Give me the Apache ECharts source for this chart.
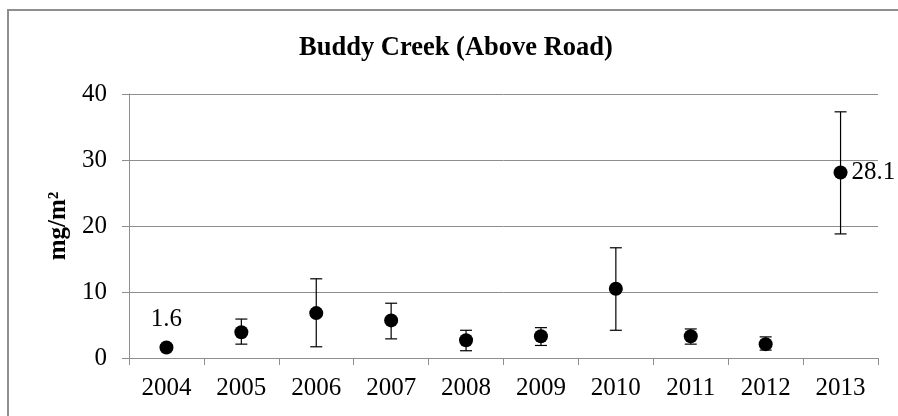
<!DOCTYPE html>
<html>
<head>
<meta charset="utf-8">
<script src="https://cdn.jsdelivr.net/npm/echarts@6/dist/echarts.min.js"></script>
<style>
html, body { margin: 0; padding: 0; background: #fff; }
#chart { width: 898px; height: 416px; }
</style>
</head>
<body>
<div id="chart"></div>
<script>
var years = ['2004', '2005', '2006', '2007', '2008', '2009', '2010', '2011', '2012', '2013']
var means = [1.6, 3.9, 6.8, 5.7, 2.7, 3.3, 10.5, 3.3, 2.1, 28.1]
var lows = [1.2, 2.1, 1.7, 2.9, 1.1, 1.9, 4.2, 2.1, 1.2, 18.8]
var highs = [2.0, 5.9, 12.0, 8.3, 4.2, 4.6, 16.7, 4.4, 3.2, 37.3]
var yTicks = [0, 10, 20, 30, 40]

var serif = '"Liberation Serif", "Times New Roman", serif'
var grey = '#8e8e8e'

var chart = echarts.init(document.getElementById('chart'))

var pointData = means.map(function (v, i) {
  var item = { value: v }
  if (i === 0) {
    item.label = { show: true, position: 'top', distance: 9, formatter: String(v) }
  } else if (i === means.length - 1) {
    item.label = { show: true, position: 'right', distance: 4, formatter: String(v) }
  }
  return item
})

var barData = years.map(function (y, i) {
  return [i, lows[i], highs[i]]
})

chart.setOption({
  animation: false,
  backgroundColor: '#fff',
  title: {
    text: 'Buddy Creek (Above Road)',
    left: 299,
    top: 35,
    padding: 0,
    textStyle: {
      fontFamily: serif,
      fontWeight: 'bold',
      fontSize: 26.5,
      color: '#000'
    }
  },
  graphic: [{
    type: 'rect',
    shape: { x: 8, y: 10, width: 1000, height: 1000 },
    style: { fill: 'none', stroke: grey, lineWidth: 2 },
    silent: true
  }],
  grid: {
    left: 129,
    right: 20,
    top: 94,
    bottom: 58
  },
  xAxis: {
    type: 'category',
    data: years,
    boundaryGap: true,
    axisLine: { show: true, lineStyle: { color: grey, width: 1 } },
    axisTick: { show: true, length: 7, lineStyle: { color: grey } },
    axisLabel: {
      margin: 18,
      fontFamily: serif,
      fontSize: 25,
      color: '#000',
      interval: 0
    },
    splitLine: { show: false }
  },
  yAxis: {
    type: 'value',
    min: yTicks[0],
    max: yTicks[yTicks.length - 1],
    interval: 10,
    name: 'mg/m²',
    nameLocation: 'middle',
    nameGap: 54,
    nameTextStyle: {
      fontFamily: serif,
      fontWeight: 'bold',
      fontSize: 25,
      color: '#000'
    },
    axisLine: { show: true, lineStyle: { color: grey, width: 1 } },
    axisTick: { show: true, length: 7, lineStyle: { color: grey } },
    axisLabel: {
      margin: 22,
      fontFamily: serif,
      fontSize: 25,
      color: '#000'
    },
    splitLine: { show: true, lineStyle: { color: grey, width: 1 } }
  },
  series: [
    {
      type: 'custom',
      name: 'error',
      data: barData,
      z: 3,
      renderItem: function (params, api) {
        var x = api.value(0)
        var lo = api.coord([x, api.value(1)])
        var hi = api.coord([x, api.value(2)])
        var cap = 6
        var style = { stroke: '#000', lineWidth: 1.2 }
        return {
          type: 'group',
          children: [
            { type: 'line', shape: { x1: hi[0], y1: hi[1], x2: lo[0], y2: lo[1] }, style: style },
            { type: 'line', shape: { x1: hi[0] - cap, y1: hi[1], x2: hi[0] + cap, y2: hi[1] }, style: style },
            { type: 'line', shape: { x1: lo[0] - cap, y1: lo[1], x2: lo[0] + cap, y2: lo[1] }, style: style }
          ]
        }
      }
    },
    {
      type: 'scatter',
      name: 'mean',
      data: pointData,
      symbol: 'circle',
      symbolSize: 14,
      z: 4,
      itemStyle: { color: '#000', opacity: 1 },
      label: {
        fontFamily: serif,
        fontSize: 25,
        color: '#000'
      }
    }
  ]
})
</script>
</body>
</html>
